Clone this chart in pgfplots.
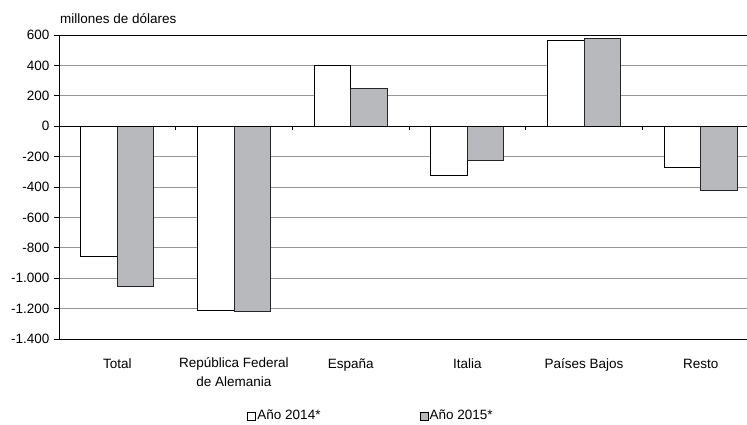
\documentclass[border=0pt]{standalone}
\usepackage{fontspec}
\setmainfont{Liberation Sans}
\usepackage{pgfplots}
\pgfplotsset{compat=1.18}

\definecolor{barGray}{RGB}{184,185,189}
\definecolor{gridGray}{RGB}{150,150,150}

\begin{document}
\fontsize{13.5bp}{16bp}\selectfont
\begin{tikzpicture}
% fixed picture size: 747 x 425, the plot box is cut on the right as in the source
\useasboundingbox (-59bp,-86bp) rectangle (688bp,339bp);
\begin{axis}[
    name=ax,
    at={(0,0)}, anchor=south west,
    scale only axis,
    width=700bp, height=304bp,
    xmin=-0.5, xmax=5.5,
    ymin=-1400, ymax=600,
    ybar=0pt, bar width=36.6bp,
    axis line style={black, line width=0.9bp},
    xtick={0,1,2,3,4,5},
    xticklabels={Total, {República Federal\\de Alemania}, España, Italia, Países Bajos, Resto},
    xtick style={draw=none},
    xticklabel style={align=center, anchor=north, inner sep=0pt,
        font=\fontsize{13.5bp}{18.3bp}\selectfont,
        execute at begin node={\rule{0pt}{10.5bp}}, yshift=-13.8bp},
    ytick={-1400,-1200,-1000,-800,-600,-400,-200,0,200,400,600},
    yticklabels={-1.400,-1.200,-1.000,-800,-600,-400,-200,0,200,400,600},
    ytick style={black, line width=0.8bp},
    tick align=outside, major tick length=5bp,
    ymajorgrids=true,
    grid style={gridGray, line width=0.9bp},
    legend style={draw=none, fill=none, at={(0.4454,-0.2533)}, anchor=center,
        legend columns=2,
        /tikz/column 2/.style={column sep=97.5bp},
        nodes={inner xsep=1.5bp}},
    legend image code/.code={\draw[#1, draw=black, line width=0.6bp] (0bp,-4bp) rectangle (8bp,4bp);},
]
\addplot[draw=black, fill=white, line width=0.9bp] coordinates {
    (0,-858) (1,-1213) (2,400) (3,-327) (4,565) (5,-270)
};
\addlegendentry{Año 2014*}
\addplot[draw=black!85, fill=barGray, line width=0.9bp] coordinates {
    (0,-1052) (1,-1218) (2,248) (3,-225) (4,575) (5,-423)
};
\addlegendentry{Año 2015*}
% zero line with the small separator ticks between categories
\draw[black, line width=0.9bp] (axis cs:-0.5,0) -- (axis cs:5.5,0);
\draw[black, line width=0.8bp] (axis cs:0.5,0) -- ([yshift=-4bp]axis cs:0.5,0);
\draw[black, line width=0.8bp] (axis cs:1.5,0) -- ([yshift=-4bp]axis cs:1.5,0);
\draw[black, line width=0.8bp] (axis cs:2.5,0) -- ([yshift=-4bp]axis cs:2.5,0);
\draw[black, line width=0.8bp] (axis cs:3.5,0) -- ([yshift=-4bp]axis cs:3.5,0);
\draw[black, line width=0.8bp] (axis cs:4.5,0) -- ([yshift=-4bp]axis cs:4.5,0);
\end{axis}
\draw[black, line width=0.9bp] (ax.north west) -- (ax.north east);
\node[anchor=base west, inner sep=0pt] at ([xshift=1bp, yshift=11.7bp]ax.north west) {millones de dólares};
\end{tikzpicture}
\end{document}
